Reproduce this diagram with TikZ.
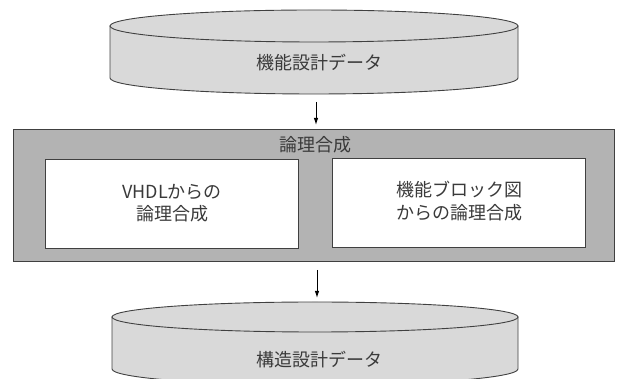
\documentclass[tikz,border=0pt]{standalone}
\usepackage{fontspec}
\setmainfont{Noto Sans CJK JP}
\usetikzlibrary{arrows.meta}
\definecolor{cylfill}{HTML}{D9D9D9}
\definecolor{boxfill}{HTML}{B3B3B3}
\definecolor{txt}{HTML}{3A3A3A}
\definecolor{edge}{HTML}{404040}
\tikzset{
  lbl/.style={text=txt, font=\fontsize{18}{22.5}\selectfont, align=center, inner sep=0pt},
  cyl/.style={fill=cylfill, draw=edge, line width=0.9pt},
  outerbox/.style={draw=edge, fill=boxfill, line width=1.4pt, inner sep=0pt, anchor=south west},
  innerbox/.style={draw=edge, fill=white, line width=1pt, inner sep=0pt, anchor=south west},
  flow/.style={draw=black, line width=1pt, -{Latex[length=7pt,width=4.5pt]}}
}
\begin{document}
\begin{tikzpicture}[x=1pt,y=1pt]
\useasboundingbox (0,0) rectangle (617,379);
% top cylinder
\path[cyl] (110,353) -- (110,301) arc[start angle=180, end angle=360, x radius=204pt, y radius=16pt] -- (518,353) -- cycle;
\path[cyl] (314,353) ellipse[x radius=204pt, y radius=16pt];
\node[lbl] (funcdata) at (319,316) {機能設計データ};
\coordinate (a1s) at (316,277);
\coordinate (a1e) at (316,254);
% outer box
\node[outerbox, minimum width=601pt, minimum height=132pt] (synth) at (13,117) {};
\node[lbl] (title) at (315,234) {論理合成};
\node[innerbox, minimum width=253pt, minimum height=89pt] (vhdl) at (45,130) {};
\node[innerbox, minimum width=253pt, minimum height=89pt] (fblk) at (332,131) {};
\node[lbl] (vhdltxt) at ([yshift=1pt]vhdl.center) {VHDLからの\\論理合成};
\node[lbl] (fblktxt) at ([yshift=2pt]fblk.center) {機能ブロック図\\からの論理合成};
% bottom cylinder
\path[cyl] (112,62) -- (112,10) arc[start angle=180, end angle=360, x radius=203pt, y radius=16pt] -- (518,62) -- cycle;
\path[cyl] (315,62) ellipse[x radius=203pt, y radius=15pt];
\node[lbl] (structdata) at (319,19) {構造設計データ};
\coordinate (a2s) at (317,109);
\coordinate (a2e) at (317,81);
\draw[flow] (a1s) -- (a1e);
\draw[flow] (a2s) -- (a2e);
\end{tikzpicture}
\end{document}
